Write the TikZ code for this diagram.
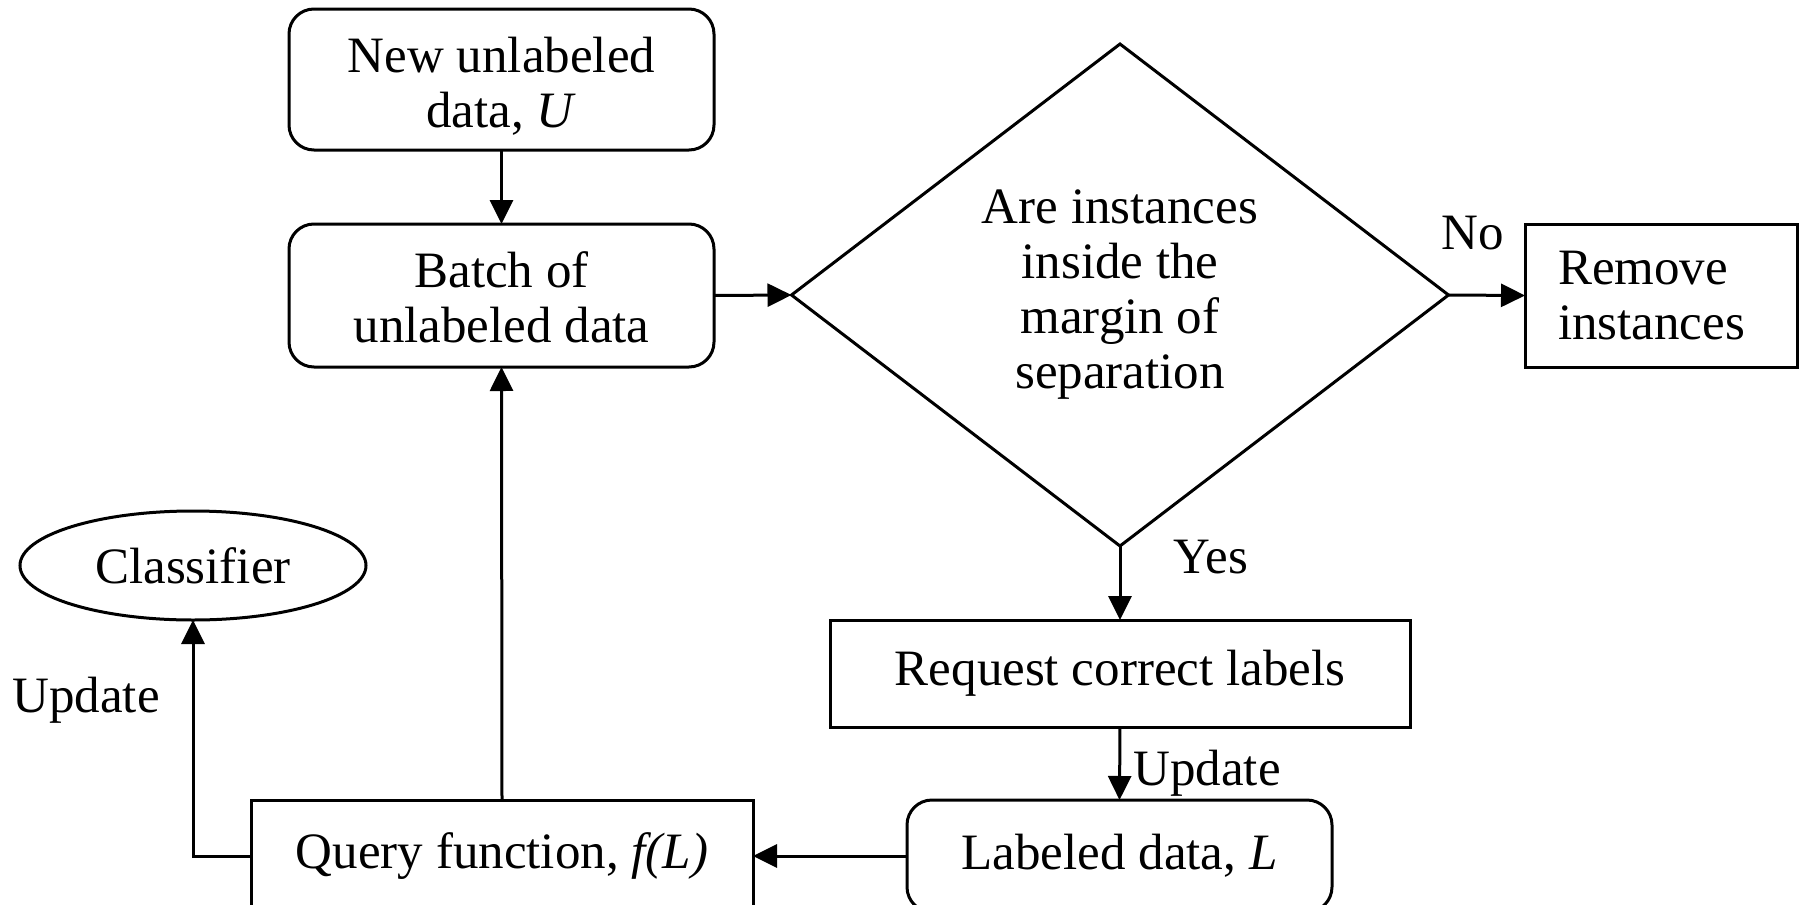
\documentclass[tikz,border=0pt]{standalone}
\usepackage{fontspec}
\setmainfont{Liberation Serif}
\usetikzlibrary{shapes.geometric,arrows.meta}
\begin{document}
\begin{tikzpicture}[x=1pt,y=-1pt,
  every node/.style={font=\fontsize{51}{55}\selectfont, inner sep=0pt, outer sep=0pt},
  rbox/.style={draw, line width=3pt, rounded corners=25pt, align=center},
  sbox/.style={draw, line width=3pt, align=center},
  arr/.style={line width=3pt, -{Triangle[length=24pt,width=23pt]}},
  ln/.style={line width=3pt}]
\useasboundingbox (0,0) rectangle (1800,905);
\clip (0,0) rectangle (1800,905);
\fill[white] (0,0) rectangle (1800,905);

\node[rbox, minimum width=425pt, minimum height=141pt] (new) at (501.5,79.5) {\rule{0pt}{48pt}New unlabeled\\data, \textit{U}};
\node[rbox, minimum width=425pt, minimum height=143pt] (batch) at (501.5,295.5) {\rule{0pt}{39.5pt}Batch of\\unlabeled data};
\node[draw, line width=3pt, diamond, minimum width=657pt, minimum height=502pt, align=center] (dec) at (1120,295) {Are instances\\inside the\\margin of\\separation};
\node[sbox, minimum width=272pt, minimum height=143pt, text width=206pt, align=left] (remove) at (1661,295.5) {Remove\\instances};
\node[sbox, minimum width=580pt, minimum height=107pt] (request) at (1120,673.5) {Request correct labels};
\node[rbox, minimum width=425pt, minimum height=112pt] (labeled) at (1119.5,856) {Labeled data, \textit{L}};
\node[sbox, minimum width=502pt, minimum height=112pt] (query) at (502,856) {Query function, \textit{f(L)}};
\node[draw, line width=3pt, ellipse, minimum width=346pt, minimum height=109pt] (classifier) at (193,565.5) {Classifier};

\node (no) at (1473,233) {No};
\node (yes) at (1211,557) {Yes};
\node (upd1) at (1207,773) {Update};
\node (upd2) at (86,700) {Update};

\draw[arr] (new) -- (batch);
\draw[arr] (batch.east) -- (dec.west);
\draw[arr] (dec.east) -- (remove.west);
\draw[arr] (dec.south) -- (request.north);
\draw[arr] (request.south) -- (labeled.north);
\draw[arr] (labeled.west) -- (query.east);
\draw[arr] (query.north) -- (batch.south);
\draw[arr] (query.west) -| (classifier.south);
\end{tikzpicture}
\end{document}
